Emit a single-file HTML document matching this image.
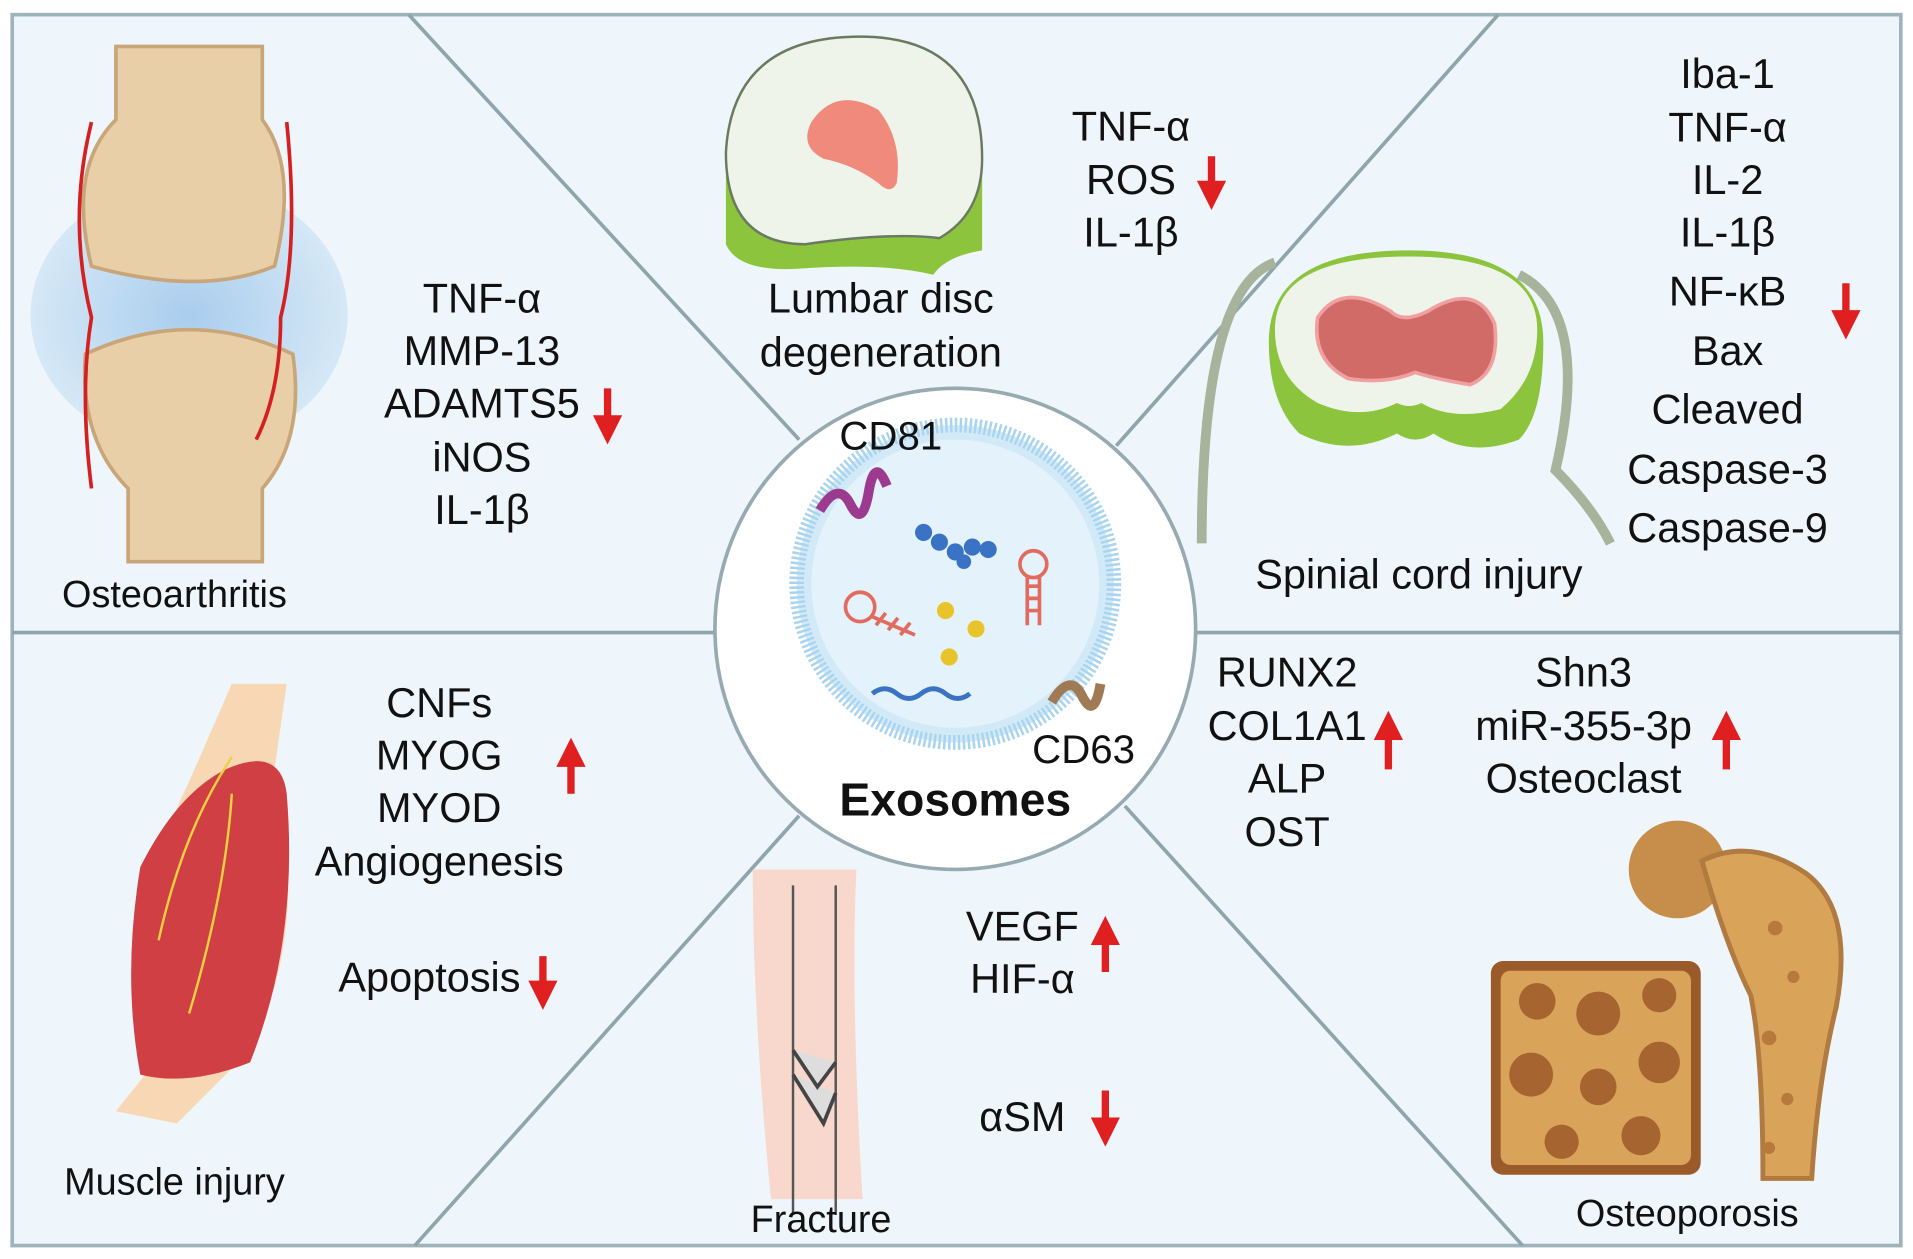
<!DOCTYPE html>
<html><head><meta charset="utf-8"><style>
html,body{margin:0;padding:0;background:#fff;}
svg{display:block;}
text{font-family:"Liberation Sans",sans-serif;fill:#111;}
</style></head><body>
<svg width="1913" height="1259" viewBox="0 0 1568 1031" preserveAspectRatio="none" xmlns="http://www.w3.org/2000/svg">
<defs>
<marker id="a" viewBox="0 0 10 10" refX="5" refY="5" markerWidth="4" markerHeight="4" orient="auto"><path d="M0 0L10 5L0 10z" fill="#e02020"/></marker>
<radialGradient id="jb" cx="50%" cy="50%" r="50%"><stop offset="0" stop-color="#a9cdee"/><stop offset="1" stop-color="#d5e8f6"/></radialGradient>
</defs>
<rect x="10" y="12" width="1548" height="1008" fill="#eef6fb" stroke="#9fb3bd" stroke-width="3"/>
<g stroke="#8ea5ae" stroke-width="3">
<line x1="10" y1="518" x2="1558" y2="518"/>
<line x1="335" y1="12" x2="655" y2="360"/>
<line x1="1228" y1="12" x2="915" y2="365"/>
<line x1="655" y1="668" x2="340" y2="1020"/>
<line x1="922" y1="660" x2="1248" y2="1020"/>
</g>
<!-- center -->
<circle cx="783" cy="515" r="197" fill="#fff" stroke="#97aab2" stroke-width="3"/>
<circle cx="783" cy="478" r="130" fill="#d2e9f7" stroke="#a9d4ef" stroke-width="12" stroke-dasharray="2 2"/>
<circle cx="783" cy="478" r="118" fill="#e3f2fb"/>
<g fill="#3a73c4"><circle cx="757" cy="436" r="7"/><circle cx="770" cy="444" r="7"/><circle cx="783" cy="452" r="7"/><circle cx="797" cy="448" r="7"/><circle cx="810" cy="450" r="7"/><circle cx="790" cy="460" r="6"/></g>
<g fill="#e8c42a"><circle cx="775" cy="500" r="7"/><circle cx="800" cy="515" r="7"/><circle cx="778" cy="538" r="7"/></g>
<path d="M715 568 q10 -8 20 0 t20 0 t20 0 t20 0" fill="none" stroke="#3a73c4" stroke-width="4"/>
<circle cx="705" cy="497" r="12" fill="none" stroke="#e26a5e" stroke-width="3"/>
<path d="M715 505 l35 15 M718 512 l8 -10 M728 516 l8 -10 M738 520 l8 -10" stroke="#e26a5e" stroke-width="3"/>
<circle cx="847" cy="462" r="11" fill="none" stroke="#e26a5e" stroke-width="3"/>
<path d="M842 472 v40 M852 472 v40 M842 480h10 M842 490h10 M842 500h10" stroke="#e26a5e" stroke-width="3"/>
<path d="M672 418 q15 -25 25 -5 t15 -10 t15 -5" fill="none" stroke="#9b3a8f" stroke-width="8"/>
<path d="M862 575 q15 -25 25 -5 t15 -10" fill="none" stroke="#a07a55" stroke-width="8"/>
<text x="688" y="368" font-size="33">CD81</text>
<text x="846" y="625" font-size="33">CD63</text>
<text x="783" y="668" font-size="38" font-weight="bold" text-anchor="middle">Exosomes</text>
<!-- osteoarthritis -->
<ellipse cx="155" cy="258" rx="130" ry="110" fill="url(#jb)"/>
<path d="M95 38 h120 v60 q30 40 10 120 q-60 25 -150 0 q-20 -80 20 -120z" fill="#e9cfa8" stroke="#c9a679" stroke-width="3"/>
<path d="M70 290 q85 -40 170 0 q10 70 -25 110 v60 h-110 v-60 q-40 -40 -35 -110z" fill="#e9cfa8" stroke="#c9a679" stroke-width="3"/>
<path d="M75 100 q-20 80 0 160 q-10 60 0 140 M235 100 q10 100 -5 160 q0 60 -20 100" fill="none" stroke="#d42020" stroke-width="3"/>
<text x="143" y="497" font-size="31" text-anchor="middle">Osteoarthritis</text>
<g font-size="34" text-anchor="middle"><text x="395" y="256">TNF-α</text><text x="395" y="299">MMP-13</text><text x="395" y="342">ADAMTS5</text><text x="395" y="386">iNOS</text><text x="395" y="429">IL-1β</text></g>
<line x1="498" y1="318" x2="498" y2="352" stroke="#e02020" stroke-width="6" marker-end="url(#a)"/>
<!-- disc -->
<path d="M595 130 q5 -100 110 -100 q100 0 100 110 v65 q-30 5 -40 20 q-40 -10 -110 -5 q-50 3 -60 -20z" fill="#8cc43d"/>
<path d="M595 125 q5 -95 110 -95 q100 0 100 100 q0 45 -35 65 q-40 -5 -110 5 q-65 0 -65 -75z" fill="#eef4ea" stroke="#6a7a60" stroke-width="2"/>
<path d="M665 100 q20 -30 55 -10 q20 25 15 60 q-5 10 -15 0 q-20 -15 -45 -20 q-20 -10 -10 -30z" fill="#ef8a7c"/>
<text x="722" y="256" font-size="34" text-anchor="middle">Lumbar disc</text>
<text x="722" y="300" font-size="34" text-anchor="middle">degeneration</text>
<g font-size="34" text-anchor="middle"><text x="927" y="115">TNF-α</text><text x="927" y="159">ROS</text><text x="927" y="202">IL-1β</text></g>
<line x1="993" y1="128" x2="993" y2="160" stroke="#e02020" stroke-width="6" marker-end="url(#a)"/>
<!-- spinal -->
<path d="M1045 215 q-60 20 -60 230 M1245 225 q60 30 30 160 q30 30 45 60" fill="none" stroke="#a7b39a" stroke-width="8"/>
<path d="M1040 280 q0 -75 115 -75 q110 0 110 75 q0 60 -20 80 q-40 15 -70 -5 q-15 10 -30 0 q-40 20 -80 0 q-25 -25 -25 -75z" fill="#8cc43d"/>
<path d="M1045 270 q0 -60 110 -60 q105 0 105 60 q0 40 -30 65 q-40 10 -65 -5 q-10 5 -20 0 q-30 15 -65 0 q-35 -20 -35 -60z" fill="#eef4ea"/>
<path d="M1080 260 q20 -30 60 -5 q10 10 30 0 q40 -25 55 10 q5 40 -20 50 q-30 -5 -45 -10 q-25 10 -55 5 q-30 -15 -25 -50z" fill="#d06b68" stroke="#f0a0a0" stroke-width="3"/>
<text x="1163" y="482" font-size="34" text-anchor="middle">Spinial cord injury</text>
<g font-size="34" text-anchor="middle"><text x="1416" y="72">Iba-1</text><text x="1416" y="116">TNF-α</text><text x="1416" y="159">IL-2</text><text x="1416" y="202">IL-1β</text><text x="1416" y="250">NF-κB</text><text x="1416" y="299">Bax</text><text x="1416" y="347">Cleaved</text><text x="1416" y="396">Caspase-3</text><text x="1416" y="444">Caspase-9</text></g>
<line x1="1513" y1="232" x2="1513" y2="266" stroke="#e02020" stroke-width="6" marker-end="url(#a)"/>
<!-- muscle -->
<path d="M190 560 l45 0 l-10 70 q30 130 -20 230 l-60 60 l-50 -10 l40 -50 q-30 -120 20 -220z" fill="#f7d7b4"/>
<path d="M185 630 q45 -20 50 20 q10 120 -30 220 q-50 20 -90 10 q-15 -80 0 -170 q30 -60 70 -80z" fill="#cf3f44"/>
<path d="M130 770 q20 -90 60 -150 M155 830 q30 -100 35 -180" stroke="#f0d040" stroke-width="2" fill="none"/>
<text x="143" y="978" font-size="31" text-anchor="middle">Muscle injury</text>
<g font-size="34" text-anchor="middle"><text x="360" y="587">CNFs</text><text x="360" y="630">MYOG</text><text x="360" y="673">MYOD</text><text x="360" y="717">Angiogenesis</text><text x="352" y="812">Apoptosis</text></g>
<line x1="468" y1="650" x2="468" y2="616" stroke="#e02020" stroke-width="6" marker-end="url(#a)"/>
<line x1="445" y1="783" x2="445" y2="815" stroke="#e02020" stroke-width="6" marker-end="url(#a)"/>
<!-- fracture -->
<path d="M617 712 h85 q-5 100 5 270 h-75 q-15 -150 -15 -270z" fill="#f8d8cc"/>
<path d="M650 725 v270 M685 725 v270" stroke="#555" stroke-width="2" fill="none"/>
<path d="M650 860 l20 30 l15 -20 M650 880 l25 40 l10 -25" stroke="#444" stroke-width="3" fill="#ddd"/>
<text x="673" y="1009" font-size="31" text-anchor="middle">Fracture</text>
<g font-size="34" text-anchor="middle"><text x="838" y="770">VEGF</text><text x="838" y="813">HIF-α</text><text x="838" y="926">αSM</text></g>
<line x1="906" y1="796" x2="906" y2="762" stroke="#e02020" stroke-width="6" marker-end="url(#a)"/>
<line x1="906" y1="893" x2="906" y2="927" stroke="#e02020" stroke-width="6" marker-end="url(#a)"/>
<!-- osteoporosis -->
<g font-size="34" text-anchor="middle"><text x="1055" y="562">RUNX2</text><text x="1055" y="606">COL1A1</text><text x="1055" y="649">ALP</text><text x="1055" y="693">OST</text><text x="1298" y="562">Shn3</text><text x="1298" y="606">miR-355-3p</text><text x="1298" y="649">Osteoclast</text></g>
<line x1="1138" y1="630" x2="1138" y2="594" stroke="#e02020" stroke-width="6" marker-end="url(#a)"/>
<line x1="1415" y1="630" x2="1415" y2="594" stroke="#e02020" stroke-width="6" marker-end="url(#a)"/>
<rect x="1222" y="787" width="172" height="175" rx="10" fill="#9a5a2a"/>
<rect x="1230" y="795" width="156" height="159" rx="8" fill="#d9a45a"/>
<g fill="#a66530"><circle cx="1260" cy="820" r="15"/><circle cx="1310" cy="830" r="18"/><circle cx="1360" cy="815" r="14"/><circle cx="1255" cy="880" r="18"/><circle cx="1310" cy="890" r="15"/><circle cx="1360" cy="870" r="17"/><circle cx="1280" cy="935" r="14"/><circle cx="1345" cy="930" r="16"/></g>
<circle cx="1375" cy="712" r="40" fill="#c68e4a"/>
<path d="M1395 705 q40 -20 85 10 q40 30 25 110 q-15 60 -20 140 h-40 q0 -100 -10 -150 q-20 -40 -40 -110z" fill="#d9a45a" stroke="#b07a40" stroke-width="4"/>
<g fill="#b77a3c"><circle cx="1455" cy="760" r="6"/><circle cx="1470" cy="800" r="5"/><circle cx="1450" cy="850" r="6"/><circle cx="1465" cy="900" r="5"/><circle cx="1450" cy="940" r="5"/></g>
<text x="1383" y="1004" font-size="31" text-anchor="middle">Osteoporosis</text>
</svg>
</body></html>
